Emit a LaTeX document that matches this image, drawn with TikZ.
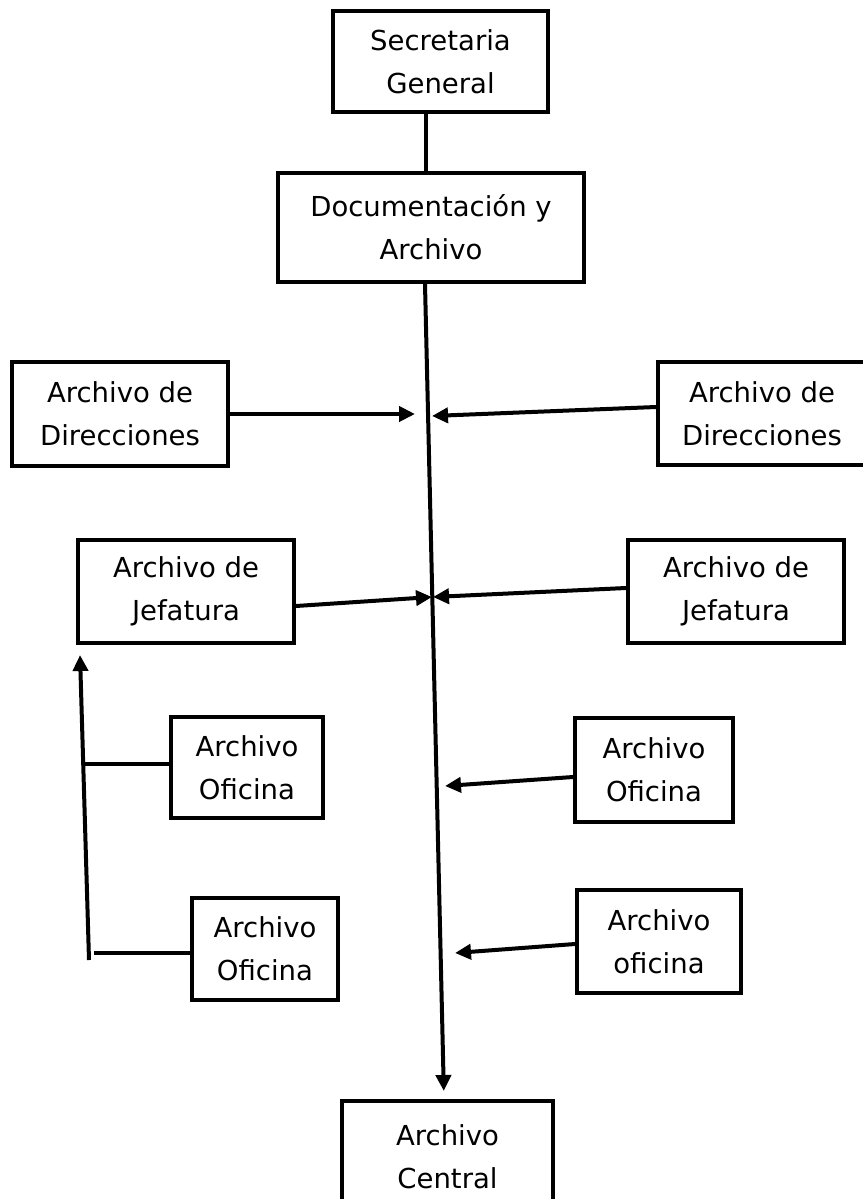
\documentclass[tikz,border=0pt]{standalone}
\usepackage{fontspec}
\setmainfont{DejaVu Sans}
\usetikzlibrary{arrows.meta}
\begin{document}
\begin{tikzpicture}[x=1pt,y=-1pt,
  box/.style={draw, line width=4pt, rectangle, inner sep=0pt, align=center,
    font=\fontsize{27.5pt}{43pt}\selectfont},
  conn/.style={line width=4pt},
  arr/.style={conn, -{Triangle[length=16pt,width=15pt]}}]
\useasboundingbox (0,0) rectangle (862,1199);
\fill[white] (0,0) rectangle (862,1199);
% boxes
\node[box, minimum width=215pt, minimum height=101pt] (sec) at (440.5,61.5) {Secretaria\\General};
\node[box, minimum width=306pt, minimum height=109pt] (doc) at (431,227.5) {Documentación y\\Archivo};
\node[box, minimum width=216pt, minimum height=104pt] (dirL) at (120,414) {Archivo de\\Direcciones};
\node[box, minimum width=208pt, minimum height=103pt] (dirR) at (762,413.5) {Archivo de\\Direcciones};
\node[box, minimum width=216pt, minimum height=103pt] (jefL) at (186,591.5) {Archivo de\\Jefatura};
\node[box, minimum width=216pt, minimum height=103pt] (jefR) at (736,591.5) {Archivo de\\Jefatura};
\node[box, minimum width=152pt, minimum height=101pt] (ofL1) at (247,767.5) {Archivo\\Oficina};
\node[box, minimum width=158pt, minimum height=104pt] (ofR1) at (654,770) {Archivo\\Oficina};
\node[box, minimum width=146pt, minimum height=102pt] (ofL2) at (265,949) {Archivo\\Oficina};
\node[box, minimum width=164pt, minimum height=103pt] (ofR2) at (659,941.5) {Archivo\\oficina};
\node[box, minimum width=211pt, minimum height=112pt] (central) at (447.5,1157) {Archivo\\Central};
% helper coordinates
\coordinate (cs) at (426,0);
\coordinate (c1) at (425,0);
\coordinate (c2) at (444,0);
\coordinate (tDirL) at (415,414);
\coordinate (tDirR) at (432,416);
\coordinate (tJefL) at (432,597);
\coordinate (tJefR) at (433,597);
\coordinate (tOfR1) at (445,786);
\coordinate (tOfR2) at (455,953);
\coordinate (vb) at (89,960);
\coordinate (vt) at (80,655);
\coordinate (h1) at (83,764);
\coordinate (h2) at (94,953);
% connectors
\draw[conn] (sec.south -| cs) -- (doc.north -| cs);
\draw[arr, shorten >=8pt] (doc.south -| c1) -- (central.north -| c2);
\draw[arr] (dirL.east) -- (tDirL);
\draw[arr] ([yshift=6.5pt]dirR.west) -- (tDirR);
\draw[arr] ([yshift=-14.5pt]jefL.east) -- (tJefL);
\draw[arr] ([yshift=3.5pt]jefR.west) -- (tJefR);
\draw[arr] ([yshift=-7pt]ofR1.west) -- (tOfR1);
\draw[arr] ([yshift=-2.5pt]ofR2.west) -- (tOfR2);
\draw[arr] (vb) -- (vt);
\draw[conn] ([yshift=3.5pt]ofL1.west) -- (h1);
\draw[conn] ([yshift=-4pt]ofL2.west) -- (h2);
\end{tikzpicture}
\end{document}
